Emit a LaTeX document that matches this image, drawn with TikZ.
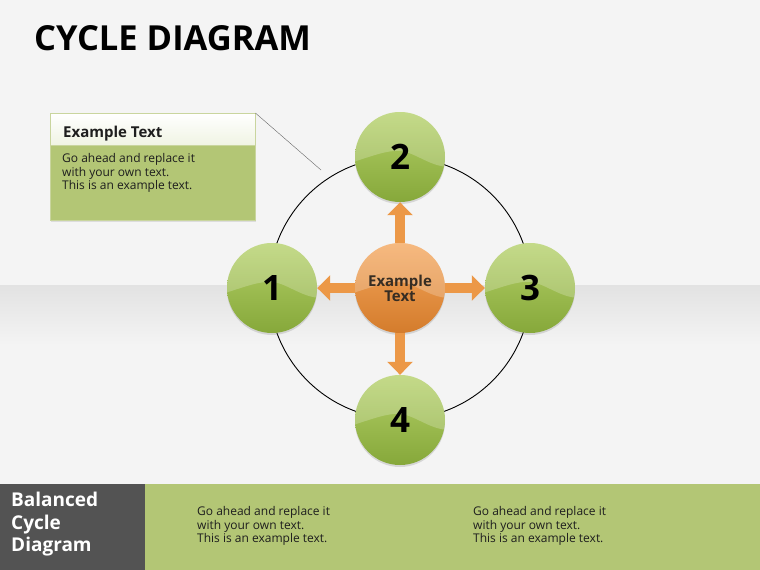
\documentclass[tikz,border=0pt]{standalone}
\usepackage{fontspec}
\setmainfont{Open Sans}
\usepackage{tikz}
\usetikzlibrary{arrows.meta, positioning, shadows}
\definecolor{cback}{HTML}{F4F4F4}
\definecolor{cband}{HTML}{E2E2E2}
\definecolor{cgreen}{HTML}{B3C675}
\definecolor{cgreenline}{HTML}{C9D59E}
\definecolor{cdark}{HTML}{535353}
\definecolor{ctext}{HTML}{1E1E1E}
\definecolor{gtop}{HTML}{B4D068}
\definecolor{gbot}{HTML}{86A83A}
\definecolor{otop}{HTML}{F4A65C}
\definecolor{obot}{HTML}{D47C2C}
\definecolor{oarrow}{HTML}{EC9847}
\tikzset{
  ball/.style={circle, minimum size=90pt, inner sep=0pt, top color=gtop, bottom color=gbot,
               drop shadow={opacity=.25, shadow xshift=0pt, shadow yshift=-2pt}},
  hub/.style={ball, top color=otop, bottom color=obot},
  numtext/.style={inner sep=0pt, font=\fontsize{35}{35}\selectfont\bfseries, text=black},
  hubtext/.style={inner sep=0pt, align=center, font=\fontsize{15}{15}\selectfont\bfseries,
                  text=ctext!85!brown},
  arr/.style={line width=10pt, oarrow, -{Triangle[width=25pt, length=13pt]}},
  bodytext/.style={anchor=north west, align=left, inner sep=0pt,
                   font=\fontsize{12}{13.8}\selectfont, text=ctext},
}

\begin{document}
\begin{tikzpicture}[x=1pt, y=-1pt]
  \useasboundingbox (0,0) rectangle (760,570);

  %% Background
  \fill[cback] (0,0) rectangle (760,570);
  \shade[top color=cband, bottom color=cback] (0,285) rectangle (760,345);

  %% Title
  \node[anchor=west, inner sep=0pt, font=\fontsize{34.5}{34.5}\selectfont\bfseries] (title) at (34,38) {CYCLE DIAGRAM};

  %% Callout
  \node[draw=cgreenline, fill=cgreen, minimum width=205pt, minimum height=107pt, anchor=north west,
        drop shadow={opacity=.2, shadow xshift=1pt, shadow yshift=-2pt}] (box) at (50,113) {};
  \node[draw=cgreenline, top color=white, bottom color=cgreen!20, minimum width=205pt, minimum height=32pt,
        anchor=north west] (head) at (box.north west) {};
  \node[anchor=west, inner sep=0pt, font=\fontsize{15}{15}\selectfont\bfseries, text=ctext] (headtext) at (63,134) {Example Text};
  \node[bodytext] (boxtext) at (62,153) {Go ahead and replace it\\with your own text.\\This is an example text.};
  \coordinate (tip) at (321,170);
  \draw[gray!80!black, thin] (box.north east) -- (tip);

  %% Ring
  \draw[line width=0.9pt] (400,288) circle (131);

  %% Balls
  \node[ball] (n1) at (272,288) {};
  \node[ball] (n2) at (400,157) {};
  \node[ball] (n3) at (530,288) {};
  \node[ball] (n4) at (400,420) {};
  \node[hub] (c) at (400,288) {};

  %% Gloss
  \foreach \n in {n1,n2,n3,n4,c}{
    \begin{scope}[shift={(\n.center)}]
      \clip (0,0) circle (45);
      \fill[white, opacity=.22] (-50,-50) -- (-50,6) .. controls (-25,-2) and (-12,-7) .. (0,-6)
        .. controls (15,-5) and (30,10) .. (50,10) -- (50,-50) -- cycle;
    \end{scope}
  }

  %% Labels
  \node[numtext] (l1) at (n1) {1};
  \node[numtext] (l2) at (n2) {2};
  \node[numtext] (l3) at (n3) {3};
  \node[numtext] (l4) at (n4) {4};
  \node[hubtext] (lc) at (c) {Example\\Text};

  %% Arrows
  \foreach \n in {n1,n2,n3,n4}
    \draw[arr] (c) -- (\n);

  %% Bottom band
  \fill[cdark] (0,484) rectangle (145,570);
  \fill[cgreen] (145,484) rectangle (760,570);
  \node[anchor=north west, align=left, inner sep=0pt, text=white,
        font=\fontsize{19}{22.5}\selectfont\bfseries] (label) at (11,492) {Balanced\\Cycle\\Diagram};
  \node[bodytext] (foot1) at (197,506) {Go ahead and replace it\\with your own text.\\This is an example text.};
  \node[bodytext] (foot2) at (473,506) {Go ahead and replace it\\with your own text.\\This is an example text.};

\end{tikzpicture}
\end{document}
